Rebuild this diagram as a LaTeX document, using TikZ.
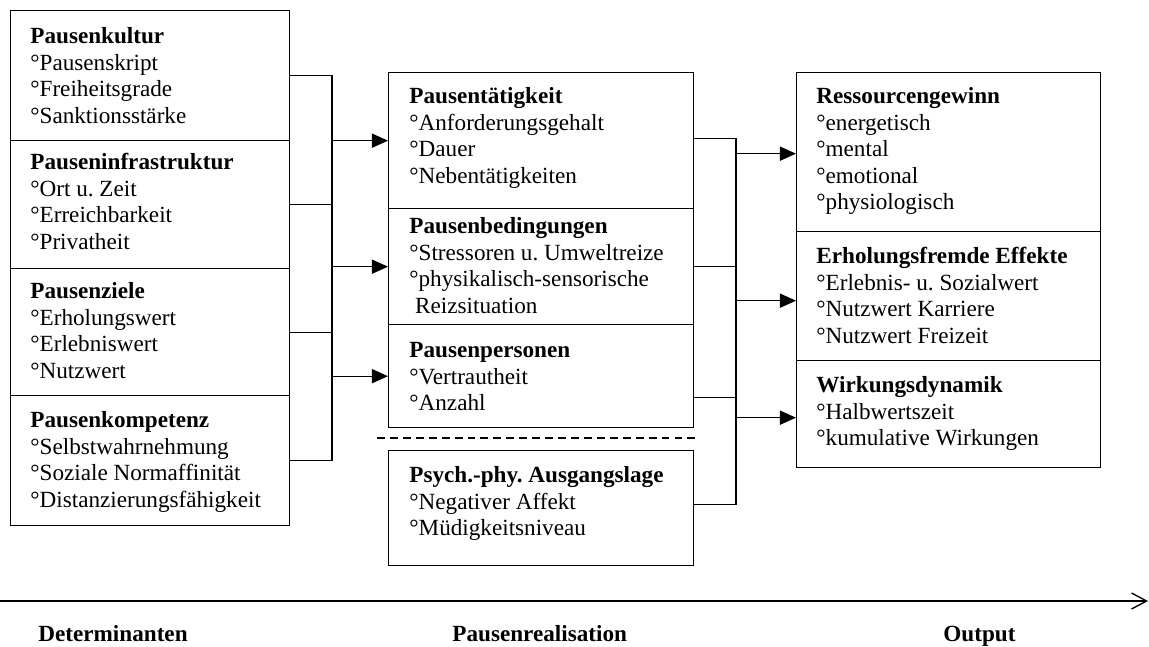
\documentclass[tikz,border=0pt]{standalone}
\usepackage{fontspec}
\setmainfont{Liberation Serif}
\usetikzlibrary{arrows.meta,calc}
\newcommand\PX{0.518pt}
\frenchspacing
\begin{document}
\begin{tikzpicture}[x=0.518pt, y=-0.518pt,
  box/.style={draw, line width=0.7pt, rectangle, inner sep=0pt, anchor=north west},
  txt/.style={anchor=north west, inner sep=0pt, align=left, font=\fontsize{12}{13.8}\selectfont\frenchspacing},
  lbl/.style={anchor=base west, inner sep=0pt, font=\fontsize{12}{13.8}\selectfont\bfseries},
  con/.style={line width=0.65pt},
  arr/.style={line width=0.65pt, -{Triangle[length=8.3pt,width=7.3pt]}},
  axis/.style={line width=0.7pt, -{Straight Barb[length=7.8pt,width=8.3pt,line width=0.7pt]}},
]
\useasboundingbox (0,0) rectangle (1149,646);

% left column boxes
\node[box, minimum width=279*\PX, minimum height=130*\PX] (kultur) at (10,10) {};
\node[box, minimum width=279*\PX, minimum height=128*\PX] (infra) at (10,140) {};
\node[box, minimum width=279*\PX, minimum height=127*\PX] (ziele) at (10,268) {};
\node[box, minimum width=279*\PX, minimum height=130*\PX] (kompetenz) at (10,395) {};

% middle column boxes
\node[box, minimum width=305*\PX, minimum height=136*\PX] (taet) at (388,72) {};
\node[box, minimum width=305*\PX, minimum height=116*\PX] (bed) at (388,208) {};
\node[box, minimum width=305*\PX, minimum height=103*\PX] (pers) at (388,324) {};
\node[box, minimum width=305*\PX, minimum height=115*\PX] (psych) at (388,450) {};

% right column boxes
\node[box, minimum width=304*\PX, minimum height=159*\PX] (res) at (796,72) {};
\node[box, minimum width=304*\PX, minimum height=129*\PX] (erh) at (796,231) {};
\node[box, minimum width=304*\PX, minimum height=107*\PX] (wirk) at (796,360) {};

% texts left
\node[txt] (kulturT) at (30,24.35) {\strut\textbf{Pausenkultur}\\°Pausenskript\\°Freiheitsgrade\\°Sanktionsstärke};
\node[txt] (infraT) at (30,150.35) {\strut\textbf{Pauseninfrastruktur}\\°Ort u. Zeit\\°Erreichbarkeit\\°Privatheit};
\node[txt] (zieleT) at (30,279.35) {\strut\textbf{Pausenziele}\\°Erholungswert\\°Erlebniswert\\°Nutzwert};
\node[txt] (kompetenzT) at (30,408.35) {\strut\textbf{Pausenkompetenz}\\°Selbstwahrnehmung\\°Soziale Normaffinität\\°Distanzierungsfähigkeit};

% texts middle
\node[txt] (taetT) at (409,84.35) {\strut\textbf{Pausentätigkeit}\\°Anforderungsgehalt\\°Dauer\\°Nebentätigkeiten};
\node[txt] (bedT) at (409,214.35) {\strut\textbf{Pausenbedingungen}\\°Stressoren u. Umweltreize\\°physikalisch-sensorische\\\hspace*{0.25em}Reizsituation};
\node[txt] (persT) at (409,338.35) {\strut\textbf{Pausenpersonen}\\°Vertrautheit\\°Anzahl};
\node[txt] (psychT) at (409,463.35) {\strut\textbf{Psych.-phy. Ausgangslage}\\°Negativer Affekt\\°Müdigkeitsniveau};

% texts right
\node[txt] (resT) at (816,84.35) {\strut\textbf{Ressourcengewinn}\\°energetisch\\°mental\\°emotional\\°physiologisch};
\node[txt] (erhT) at (816,244.35) {\strut\textbf{Erholungsfremde Effekte}\\°Erlebnis- u. Sozialwert\\°Nutzwert Karriere\\°Nutzwert Freizeit};
\node[txt] (wirkT) at (816,373.35) {\strut\textbf{Wirkungsdynamik}\\°Halbwertszeit\\°kumulative Wirkungen};

% left connectors
\coordinate (lx) at (332,0);
\draw[con] (kultur.east) -- (kultur.east -| lx) -- (kompetenz.east -| lx) -- (kompetenz.east);
\draw[con] (infra.east) -- (infra.east -| lx);
\draw[con] (ziele.east) -- (ziele.east -| lx);
\draw[arr] (taet.west -| lx) -- (taet.west);
\draw[arr] (bed.west -| lx) -- (bed.west);
\draw[arr] (pers.west -| lx) -- (pers.west);

% middle connectors
\coordinate (mx) at (736,0);
\coordinate (taetout) at ($(taet.east)+(0,-2)$);
\coordinate (persout) at ($(pers.east)+(0,21.5)$);
\coordinate (psychout) at ($(psych.east)+(0,-3.5)$);
\draw[con] (taetout) -- (taetout -| mx) -- (psychout -| mx) -- (psychout);
\draw[con] (bed.east) -- (bed.east -| mx);
\draw[con] (persout) -- (persout -| mx);
\coordinate (resin) at ($(res.west)+(0,1.5)$);
\coordinate (erhin) at ($(erh.west)+(0,4.5)$);
\coordinate (wirkin) at ($(wirk.west)+(0,3.5)$);
\draw[arr] (resin -| mx) -- (resin);
\draw[arr] (erhin -| mx) -- (erhin);
\draw[arr] (wirkin -| mx) -- (wirkin);

% dashed separator
\coordinate (dA) at (377,438);
\coordinate (dB) at (698,438);
\draw[con, dash pattern=on 4.1pt off 2.6pt] (dA) -- (dB);

% axis
\coordinate (ax0) at (0,601);
\coordinate (ax1) at (1148,601);
\draw[axis] (ax0) -- (ax1);

\node[lbl] (det) at (38,641) {Determinanten};
\node[lbl] (real) at (452,641) {Pausenrealisation};
\node[lbl] (out) at (943,641) {Output};
\end{tikzpicture}
\end{document}
